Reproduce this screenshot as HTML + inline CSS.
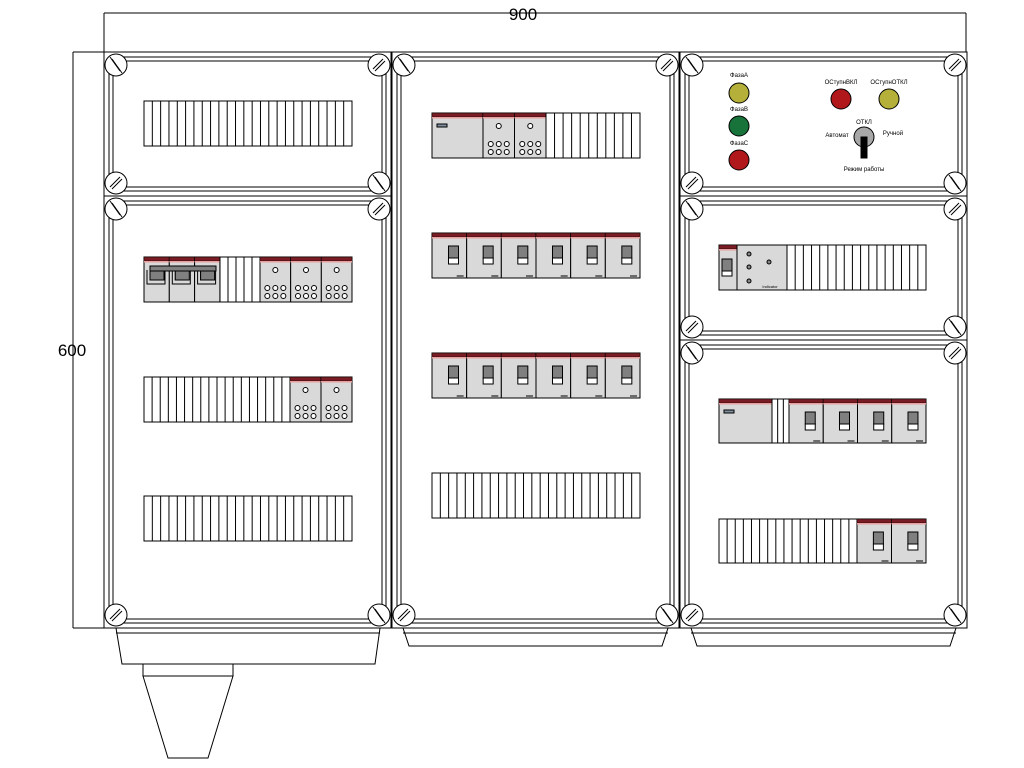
<!DOCTYPE html>
<html><head><meta charset="utf-8"><style>
html,body{margin:0;padding:0;background:#fff;width:1024px;height:768px;overflow:hidden}
svg{display:block}
text{font-family:"Liberation Sans","DejaVu Sans",sans-serif}
</style></head><body>
<svg id="s" width="1024" height="768" viewBox="0 0 1024 768" xmlns="http://www.w3.org/2000/svg">
<g id="g" fill="none" stroke="#000" stroke-width="1"></g>
<g id="t" fill="#000" stroke="none">
<text x="523" y="20" font-size="17" text-anchor="middle">900</text>
<text x="72" y="356" font-size="17" text-anchor="middle">600</text>
<text x="739" y="77" font-size="6" text-anchor="middle">ФазаА</text>
<text x="739" y="111" font-size="6" text-anchor="middle">ФазаВ</text>
<text x="739" y="145" font-size="6" text-anchor="middle">ФазаС</text>
<text x="841" y="84" font-size="6" text-anchor="middle">ОСтупнВКЛ</text>
<text x="889" y="84" font-size="6" text-anchor="middle">ОСтупнОТКЛ</text>
<text x="864" y="124" font-size="6" text-anchor="middle">ОТКЛ</text>
<text x="837" y="137" font-size="6" text-anchor="middle">Автомат</text>
<text x="893" y="135" font-size="6" text-anchor="middle">Ручной</text>
<text x="864" y="171" font-size="6" text-anchor="middle">Режим работы</text>
<text x="770" y="288" font-size="4" text-anchor="middle">Indicator</text>
</g>
</svg>
<script>
var g=document.getElementById('g'),h='';
function L(a,b,c,d){h+='<line x1="'+a+'" y1="'+b+'" x2="'+c+'" y2="'+d+'"/>';}
function R(x,y,w,hh,f,sw){h+='<rect x="'+x+'" y="'+y+'" width="'+w+'" height="'+hh+'"'+(f?' fill="'+f+'"':'')+(sw?' stroke-width="'+sw+'"':'')+'/>';}
function C(x,y,r,f){h+='<circle cx="'+x+'" cy="'+y+'" r="'+r+'"'+(f?' fill="'+f+'"':'')+'/>';}
function P(pts,f){h+='<polygon points="'+pts+'"'+(f?' fill="'+f+'"':'')+'/>';}
// dimensions
L(104,13,966,13);L(104,13,104,52);L(966,13,966,52);
L(73,52,104,52);L(73,628,104,628);L(73,52,73,628);
function box(x1,y1,x2,y2){
 R(x1,y1,x2-x1,y2-y1,'#fff');
 R(x1+5,y1+5,x2-x1-10,y2-y1-10);
 R(x1+9,y1+9,x2-x1-18,y2-y1-18);
 var cs=[[x1+12,y1+13],[x2-12,y1+13],[x1+12,y2-13],[x2-12,y2-13]];
 cs.forEach(function(c,i){C(c[0],c[1],11,'#fff');
  var s=(i==0||i==3)?1:-1;
  // two slot lines
  L(c[0]-6,c[1]-6*s-2,c[0]+6-2,c[1]+6*s);L(c[0]-6+2,c[1]-6*s,c[0]+6,c[1]+6*s+2);
 });
}
box(104,52,391,196);box(104,196,391,628);
box(392,52,679,628);
box(680,52,967,196);box(680,196,967,340);box(680,340,967,628);
// bases
P('116,628 380,628 375,664 122,664','#fff');L(116,633,380,633);
R(143,664,90,12,'#fff');P('143,676 233,676 208,758 168,758','#fff');
P('403,628 668,628 662,646 409,646','#fff');L(403,633,668,633);
P('691,628 956,628 950,646 697,646','#fff');L(691,633,956,633);
function term(x1,x2,y,hh,n){R(x1,y,x2-x1,hh,'#fff');var w=(x2-x1)/n;for(var i=1;i<n;i++)L(x1+i*w,y,x1+i*w,y+hh);}
function band(x,y,w){R(x,y,w,4,'#7a1c24',0.5);h+='<rect x="'+x+'" y="'+(y+4)+'" width="'+w+'" height="1.5" fill="#e8a0a0" stroke="none"/>';}
function brk(x,y,w,hh){R(x,y,w,hh,'#d9d9d9');band(x,y,w);var cx=x+w*0.62;
 R(cx-5,y+13,10,12,'#808080');R(cx-5,y+25,10,6,'#fff');L(x+w-10,y+hh-2,x+w-3,y+hh-2);}
function mod(x,y,w,hh){R(x,y,w,hh,'#d9d9d9');band(x,y,w);var cx=x+w/2;C(cx,y+13,2.5,'#fff');
 for(var r=0;r<2;r++)for(var i=-1;i<=1;i++)C(cx+i*8,y+hh-14+r*8,2.5,'#fff');}
function big(x,y,w,hh){R(x,y,w,hh,'#d9d9d9');band(x,y,w);R(x+5,y+11,10,3,'#8090a0');}
function brks(x1,x2,y,hh,n){var w=(x2-x1)/n;for(var i=0;i<n;i++)brk(x1+i*w,y,w,hh);}
function mods(x1,x2,y,hh,n){var w=(x2-x1)/n;for(var i=0;i<n;i++)mod(x1+i*w,y,w,hh);}
// left
term(144,352,101,45,25);
// 3 pole isolators
for(var i=0;i<3;i++){var x=144+i*25.3;R(x,257,25.3,45,'#d9d9d9');band(x,257,25.3);
 h+='<path d="M'+(x+3)+' 270 v14 h18 v-14" />';h+='<path d="M'+(x+6)+' 270 v10 h12 v-10"/>';R(x+6,266,14,14,'#808080');}
R(150,266,66,5,'#808080');
term(220,260,257,45,5);mods(260,352,257,45,3);
term(144,290,377,45,18);mods(290,352,377,45,2);
term(144,352,496,45,25);
// middle
big(432,113,51,45);mods(483,546,113,45,2);term(546,640,113,45,11);
brks(432,640,233,45,6);brks(432,640,353,45,6);
term(432,640,473,45,25);
// right top lamps
C(739,93,10,'#b5b03a');C(739,126,10,'#17733a');C(739,160,10,'#b0181c');
C(841,99,10,'#b0181c');C(889,99,10,'#b5b03a');
C(864,137,10,'#a8a8a8');R(861,137,6,21,'#000');
// right middle
R(719,245,18,45,'#d9d9d9');band(719,245,18);R(722,259,10,12,'#808080');R(722,271,10,5,'#fff');
R(737,245,50,45,'#d9d9d9');C(749,254,2,'#888');C(749,267,2,'#888');C(749,281,2,'#888');C(769,262,2,'#888');
term(787,926,245,45,17);
// right bottom
big(719,399,53,44);term(772,789,399,44,3);brks(789,926,399,44,4);
term(719,857,519,44,17);brks(857,926,519,44,2);
g.innerHTML=h;
</script>
</body></html>
